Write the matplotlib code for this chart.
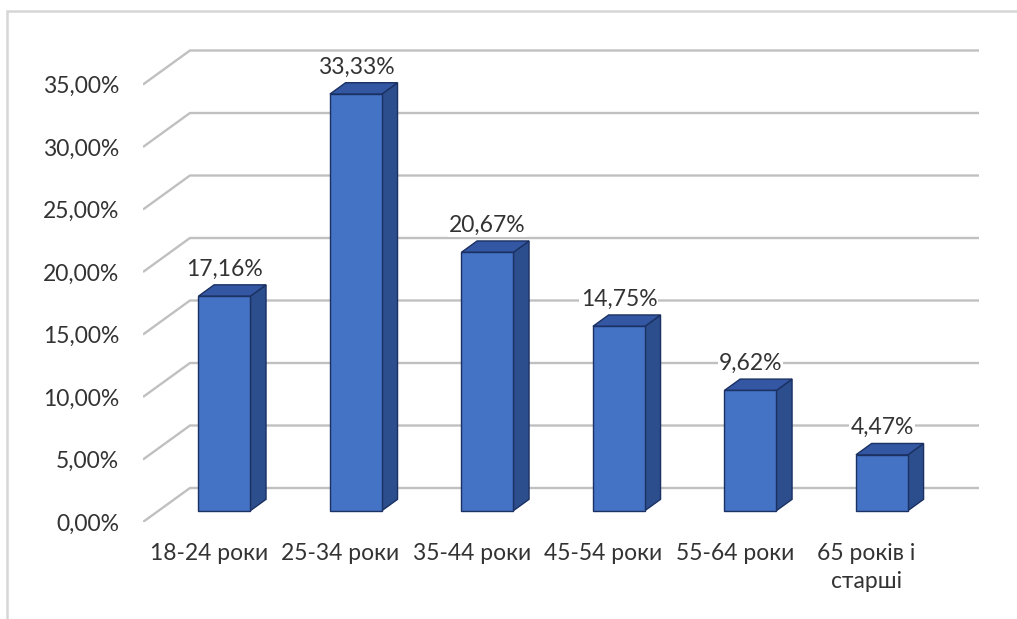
import matplotlib.pyplot as plt
import numpy as np
from matplotlib.patches import Polygon, Rectangle

# age groups and their shares (%)
categories = ['18-24 роки', '25-34 роки', '35-44 роки', '45-54 роки',
              '55-64 роки', '65 років і\nстарші']
shares = [17.16, 33.33, 20.67, 14.75, 9.62, 4.47]
y_ticks = [0, 5, 10, 15, 20, 25, 30, 35]

plt.rcParams['font.family'] = ['Lato', 'DejaVu Sans']
text_color = '#333333'
fs = 16.5

front = '#4472c4'
side = '#2c4e8c'
top = '#3357a2'
edge = '#1c3163'
grid = '#c0c0c0'

# fake 3D: the back wall sits DX, DY behind the front of the floor
DX, DY = 0.357, 2.72
bar_w = 0.395

fig = plt.figure(figsize=(10.17, 6.19), dpi=100)
ax = fig.add_axes([143 / 1017, 97 / 619, 836 / 1017, 38.5 * 12.5 / 619])
ax.set_xlim(-0.5, 5.5 + DX)
ax.set_ylim(0, 38.5)
for s in ax.spines.values():
    s.set_visible(False)

# frame around the chart area
fig.add_artist(Rectangle((7 / 1017, -0.1), 1.2, (619 - 11) / 619 + 0.1,
                         transform=fig.transFigure, fill=False,
                         edgecolor='#d6d6d6', linewidth=1.8))

# wall gridlines with the slanted side-wall part
for v in y_ticks:
    ax.plot([-0.5, -0.5 + DX, 5.5 + DX], [v, v + DY, v + DY],
            color=grid, linewidth=1.7, zorder=1, solid_capstyle='butt')

x = np.arange(len(categories))
dx, dy = DX / 3, DY / 3
xf = x + dx
ax.bar(xf, shares, width=bar_w, bottom=dy, color=front,
       edgecolor=edge, linewidth=1.0, zorder=3)

for xc, v in zip(xf, shares):
    xl, xr = xc - bar_w / 2, xc + bar_w / 2
    b = dy
    ax.add_patch(Polygon([(xr, b), (xr + dx, b + dy), (xr + dx, b + dy + v), (xr, b + v)],
                         closed=True, facecolor=side, edgecolor=edge,
                         linewidth=1.0, zorder=2.9))
    ax.add_patch(Polygon([(xl, b + v), (xl + dx, b + v + dy), (xr + dx, b + v + dy), (xr, b + v)],
                         closed=True, facecolor=top, edgecolor=edge,
                         linewidth=1.0, zorder=2.9))
    ax.annotate(f'{v:.2f}%'.replace('.', ','), (xc, b + v), xytext=(0, 19.5),
                textcoords='offset points', ha='center', va='center',
                fontsize=fs, color=text_color, zorder=5,
                bbox=dict(boxstyle='square,pad=0.05', facecolor='white', edgecolor='none'))

ax.set_yticks(y_ticks)
ax.set_yticklabels([f'{v:.2f}%'.replace('.', ',') for v in y_ticks])
ax.set_xticks(x)
ax.set_xticklabels(categories, linespacing=1.4)
ax.tick_params(axis='y', length=0, pad=17, labelsize=fs, labelcolor=text_color)
ax.tick_params(axis='x', length=0, pad=15, labelsize=fs, labelcolor=text_color)

fig.savefig('out.png', dpi=100)
